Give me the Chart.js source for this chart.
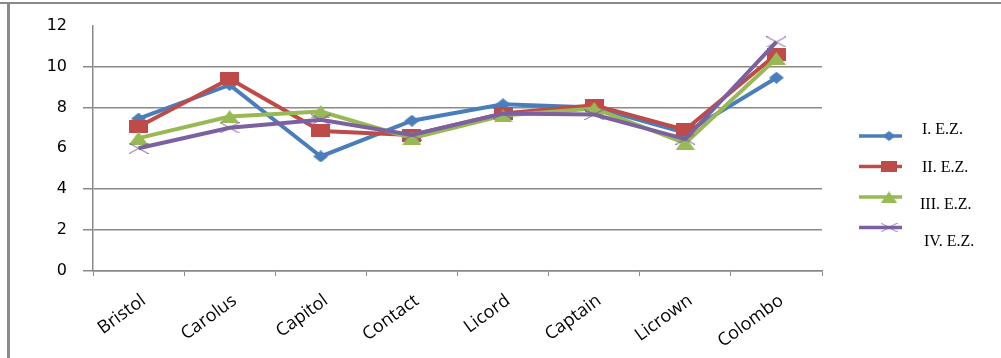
<!DOCTYPE html>
<html>
<head>
<meta charset="utf-8">
<script src="https://cdn.jsdelivr.net/npm/chart.js@4/dist/chart.umd.min.js"></script>
<style>
  html, body { margin: 0; padding: 0; background: #fff; }
  #wrap { position: relative; width: 1001px; height: 358px; }
</style>
</head>
<body>
<div id="wrap"><canvas id="c" width="1001" height="358"></canvas></div>
<script>
// Varieties on the category axis
const varieties = ['Bristol', 'Carolus', 'Capitol', 'Contact', 'Licord', 'Captain', 'Licrown', 'Colombo'];

// One series per experimental period
const seriesNames = ['I. E.Z.', 'II. E.Z.', 'III. E.Z.', 'IV. E.Z.'];
const ez1 = [7.45, 9.1, 5.6, 7.35, 8.15, 8.0, 6.75, 9.45];
const ez2 = [7.05, 9.4, 6.85, 6.65, 7.7, 8.1, 6.9, 10.6];
const ez3 = [6.5, 7.55, 7.8, 6.5, 7.6, 7.95, 6.25, 10.4];
const ez4 = [6.0, 7.0, 7.4, 6.65, 7.7, 7.65, 6.45, 11.2];

// Value axis ticks
const yTicks = [0, 2, 4, 6, 8, 10, 12];
// Levels drawn without a grid line
const yNoGrid = [6, 12];

const colors = ['#4a7ebb', '#be4b48', '#98b954', '#7d60a0'];
const values = [ez1, ez2, ez3, ez4];

// Marker images: diamond, square, triangle, thin cross (slightly wide shapes)
function makeMarker(kind, w, h, color) {
  const c = document.createElement('canvas');
  c.width = w; c.height = h;
  const g = c.getContext('2d');
  g.fillStyle = color;
  g.strokeStyle = color;
  g.beginPath();
  if (kind === 'diamond') {
    g.moveTo(w / 2, 0); g.lineTo(w, h / 2); g.lineTo(w / 2, h); g.lineTo(0, h / 2);
    g.closePath(); g.fill();
  } else if (kind === 'square') {
    g.fillRect(0, 0, w, h);
  } else if (kind === 'triangle') {
    g.moveTo(w / 2, 0); g.lineTo(w, h); g.lineTo(0, h);
    g.closePath(); g.fill();
  } else {
    g.lineWidth = 1;
    g.moveTo(0, 0); g.lineTo(w, h);
    g.moveTo(w, 0); g.lineTo(0, h);
    g.stroke();
  }
  return c;
}

const markerKinds = ['diamond', 'square', 'triangle', 'cross'];
const markerW = [15, 19, 19, 20];
const markerH = [12, 13, 13, 11];
const markerImgs = markerKinds.map((k, i) => makeMarker(k, markerW[i], markerH[i], colors[i]));

const datasets = seriesNames.map((name, i) => ({
  label: name,
  data: values[i],
  borderColor: colors[i],
  backgroundColor: colors[i],
  borderWidth: 4,
  pointStyle: markerImgs[i],
  pointRadius: 6,
  tension: 0,
  order: seriesNames.length - 1 - i
}));

// Frame lines around the figure
const framePlugin = {
  id: 'frame',
  beforeDraw(chart) {
    const ctx = chart.ctx;
    ctx.save();
    ctx.fillStyle = '#8a8a8a';
    ctx.fillRect(0, 2, chart.width, 2);
    ctx.fillRect(7, 2, 3, chart.height);
    ctx.restore();
  }
};

// Legend on the right: line with marker, then the series name
const sideLegend = {
  id: 'sideLegend',
  afterDraw(chart) {
    const ctx = chart.ctx;
    ctx.save();
    chart.data.datasets.forEach((ds, i) => {
      const ly = 136 + i * 30.5;
      ctx.strokeStyle = ds.borderColor;
      ctx.lineWidth = 3.5;
      ctx.beginPath();
      ctx.moveTo(859, ly);
      ctx.lineTo(902, ly);
      ctx.stroke();
      const img = ds.pointStyle;
      const w = img.width * 0.85, h = img.height * 0.85;
      ctx.drawImage(img, 889 - w / 2, ly - h / 2, w, h);
      ctx.fillStyle = '#000';
      ctx.font = '16px "Liberation Serif", serif';
      ctx.textBaseline = 'middle';
      ctx.textAlign = 'left';
      const tx = [922, 922, 920, 924][i];
      ctx.fillText(ds.label, tx, 130 + i * 37.3);
    });
    ctx.restore();
  }
};

new Chart(document.getElementById('c'), {
  type: 'line',
  data: { labels: varieties, datasets },
  plugins: [framePlugin, sideLegend],
  options: {
    responsive: false,
    animation: false,
    layout: { padding: { top: 15, right: 179, left: 0, bottom: 0 } },
    plugins: {
      legend: { display: false },
      tooltip: { enabled: false }
    },
    scales: {
      x: {
        offset: true,
        grid: {
          offset: true,
          drawOnChartArea: false,
          drawTicks: true,
          tickLength: 5,
          color: '#8a8a8a'
        },
        border: { color: '#8a8a8a', width: 1.5 },
        ticks: {
          color: '#000',
          font: { family: '"Open Sans", sans-serif', size: 18 },
          minRotation: 36,
          maxRotation: 36,
          padding: 14,
          labelOffset: 5
        },
        afterFit(scale) { scale.height = 87; }
      },
      y: {
        min: 0,
        max: 12,
        afterBuildTicks(scale) { scale.ticks = yTicks.map(v => ({ value: v })); },
        grid: {
          color: ctx => (ctx.tick && yNoGrid.includes(ctx.tick.value)) ? 'rgba(0,0,0,0)' : '#8a8a8a',
          lineWidth: 1.5,
          tickLength: 10
        },
        border: { color: '#8a8a8a', width: 1.5 },
        ticks: {
          color: '#000',
          font: { family: '"DejaVu Sans", sans-serif', size: 16 },
          padding: 16
        },
        afterFit(scale) { scale.width = 93; }
      }
    }
  }
});
</script>
</body>
</html>
